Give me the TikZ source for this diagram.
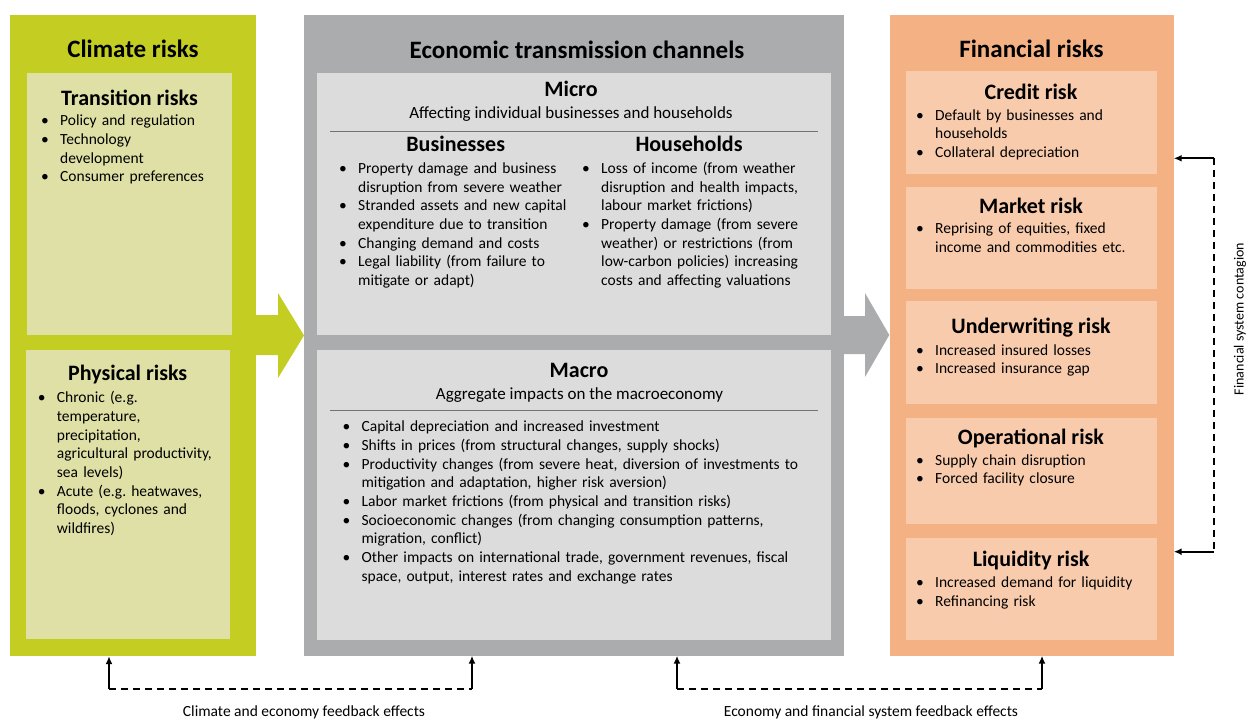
\documentclass[tikz,border=0pt]{standalone}
\usepackage{fontspec}
\setmainfont{Carlito}
\usetikzlibrary{arrows.meta,positioning,calc}
\frenchspacing
\definecolor{climgreen}{HTML}{C3CD22}
\definecolor{climpale}{HTML}{DFE0A6}
\definecolor{econgrey}{HTML}{ABACAE}
\definecolor{econpale}{HTML}{DCDCDC}
\definecolor{finorange}{HTML}{F4B183}
\definecolor{finpale}{HTML}{F8CBAD}
\newlength{\bulsep}\setlength{\bulsep}{19pt}
\newcommand{\riskitem}[1]{\noindent\hangindent=\bulsep\hangafter=1\makebox[\bulsep][l]{\textbullet}#1\par}
\newcommand{\bodyfont}{\fontsize{15.5pt}{18.7pt}\selectfont}
\tikzset{
  outerbox/.style = {rectangle, anchor=north west, inner sep=0pt},
  innerbox/.style = {rectangle, anchor=north west, inner sep=0pt},
  boxtitle/.style = {anchor=base, inner sep=0pt, font=\fontsize{25pt}{29pt}\selectfont\bfseries},
  subtitle/.style = {anchor=base, inner sep=0pt, font=\fontsize{22pt}{26pt}\selectfont\bfseries},
  blurb/.style    = {anchor=base, inner sep=0pt, font=\fontsize{17pt}{20pt}\selectfont},
  bodytext/.style = {anchor=base west, inner sep=0pt, text width=#1, align=left, font=\bodyfont},
  sepline/.style  = {draw=black!55, line width=0.8pt},
  fbdash/.style   = {line width=1.8pt, dash pattern=on 7pt off 5pt},
  fbtip/.style    = {-{Latex[length=8pt,width=7pt]}, line width=1.8pt},
  fblabel/.style  = {anchor=base, inner sep=0pt, font=\fontsize{15.5pt}{18pt}\selectfont},
}

\begin{document}
\begin{tikzpicture}[x=1pt,y=-1pt]
\useasboundingbox (0,0) rectangle (1246,720);
% ---------- outer columns ----------
\node[outerbox, fill=climgreen, minimum width=245.5pt, minimum height=641.5pt] (climate) at (10,14.3) {};
\node[outerbox, fill=econgrey, minimum width=540pt, minimum height=641pt] (econ) at (304,14.3) {};
\node[outerbox, fill=finorange, minimum width=284pt, minimum height=641pt] (fin) at (889.3,14.3) {};
% ---------- band arrows ----------
\fill[climgreen] (250,315) -- (278,315) -- (278,293) -- (304,335.5) -- (278,378) -- (278,355) -- (250,355) -- cycle;
\fill[econgrey] (840,316) -- (865,316) -- (865,293) -- (889.3,335) -- (865,377) -- (865,354) -- (840,354) -- cycle;
% ---------- climate risks ----------
\node[boxtitle] (climtitle) at (133,57.3) {Climate risks};
\node[innerbox, fill=climpale, minimum width=204.7pt, minimum height=262pt] (transition) at (27,72.7) {};
\node[innerbox, fill=climpale, minimum width=204.7pt, minimum height=288.7pt] (physical) at (25.3,350) {};
\node[subtitle] (transtitle) at (129.5,105) {Transition risks};
\node[bodytext=190pt] (transitems) at (41,125.7) {%
  \riskitem{Policy and regulation}
  \riskitem{Technology\newline development}
  \riskitem{Consumer preferences}};
\node[subtitle] (phystitle) at (127.7,380.7) {Physical risks};
\node[bodytext=190pt] (physitems) at (37.7,402.7) {%
  \riskitem{Chronic (e.g.\newline temperature,\newline precipitation,\newline agricultural productivity,\newline sea levels)}
  \riskitem{Acute (e.g. heatwaves,\newline floods, cyclones and\newline wildfires)}};
% ---------- economic transmission channels ----------
\node[boxtitle] (econtitle) at (577,58.3) {Economic transmission channels};
\node[innerbox, fill=econpale, minimum width=514pt, minimum height=261.6pt] (micro) at (317,72.7) {};
\node[innerbox, fill=econpale, minimum width=514pt, minimum height=290pt] (macro) at (317,350) {};
\node[subtitle] (microtitle) at (571,96.7) {Micro};
\node[blurb] (microblurb) at (571,118.3) {Affecting individual businesses and households};
\draw[sepline] (330,131.7) -- (818,131.7);
\node[subtitle] (bustitle) at (455.7,151.7) {Businesses};
\node[subtitle] (hhtitle) at (689,151.7) {Households};
\node[bodytext=235pt] (busitems) at (339,173.3) {%
  \riskitem{Property damage and business\newline disruption from severe weather}
  \riskitem{Stranded assets and new capital\newline expenditure due to transition}
  \riskitem{Changing demand and costs}
  \riskitem{Legal liability (from failure to\newline mitigate or adapt)}};
\node[bodytext=240pt] (hhitems) at (582,173.3) {%
  \riskitem{Loss of income (from weather\newline disruption and health impacts,\newline labour market frictions)}
  \riskitem{Property damage (from severe\newline weather) or restrictions (from\newline low-carbon policies) increasing\newline costs and affecting valuations}};
\node[subtitle] (macrotitle) at (579,377.7) {Macro};
\node[blurb] (macroblurb) at (579.5,399.3) {Aggregate impacts on the macroeconomy};
\draw[sepline] (330,410.3) -- (818,410.3);
\node[bodytext=480pt] (macroitems) at (342.4,431.7) {%
  \riskitem{Capital depreciation and increased investment}
  \riskitem{Shifts in prices (from structural changes, supply shocks)}
  \riskitem{Productivity changes (from severe heat, diversion of investments to\newline mitigation and adaptation, higher risk aversion)}
  \riskitem{Labor market frictions (from physical and transition risks)}
  \riskitem{Socioeconomic changes (from changing consumption patterns,\newline migration, conflict)}
  \riskitem{Other impacts on international trade, government revenues, fiscal\newline space, output, interest rates and exchange rates}};
% ---------- financial risks ----------
\node[boxtitle] (fintitle) at (1031.5,57.3) {Financial risks};
\node[innerbox, fill=finpale, minimum width=251.4pt, minimum height=102.3pt] (credit) at (905.3,71) {};
\node[innerbox, fill=finpale, minimum width=251.4pt, minimum height=102pt] (market) at (905.3,186.7) {};
\node[innerbox, fill=finpale, minimum width=251.4pt, minimum height=102.3pt] (underwriting) at (905.3,301) {};
\node[innerbox, fill=finpale, minimum width=251.4pt, minimum height=106.4pt] (operational) at (905.3,417.3) {};
\node[innerbox, fill=finpale, minimum width=251.4pt, minimum height=102pt] (liquidity) at (905.3,537.3) {};
\node[subtitle] (credittitle) at (1031,99.3) {Credit risk};
\node[bodytext=235pt] (credititems) at (916,120) {%
  \riskitem{Default by businesses and\newline households}
  \riskitem{Collateral depreciation}};
\node[subtitle] (markettitle) at (1031,213.3) {Market risk};
\node[bodytext=235pt] (marketitems) at (916,233.3) {%
  \riskitem{Reprising of equities, fixed\newline income and commodities etc.}};
\node[subtitle] (uwtitle) at (1031,333.3) {Underwriting risk};
\node[bodytext=235pt] (uwitems) at (916,355) {%
  \riskitem{Increased insured losses}
  \riskitem{Increased insurance gap}};
\node[subtitle] (optitle) at (1031,444) {Operational risk};
\node[bodytext=235pt] (opitems) at (916,465) {%
  \riskitem{Supply chain disruption}
  \riskitem{Forced facility closure}};
\node[subtitle] (liqtitle) at (1031,566.7) {Liquidity risk};
\node[bodytext=235pt] (liqitems) at (916,587.3) {%
  \riskitem{Increased demand for liquidity}
  \riskitem{Refinancing risk}};
% ---------- contagion loop ----------
\coordinate (contagtop) at (1214,158.3);
\coordinate (contagbot) at (1214,551.7);
\draw[fbdash] (contagtop) -- (contagbot);
\draw[fbtip] (contagtop) -- (fin.east |- contagtop);
\draw[fbtip] (contagbot) -- (fin.east |- contagbot);
\node[rotate=90, inner sep=0pt, font=\fontsize{14pt}{17pt}\selectfont] (contaglabel) at (1240,319) {Financial system contagion};
% ---------- feedback loops ----------
\coordinate (fbA) at (109,689);
\coordinate (fbB) at (472,689);
\coordinate (fbC) at (677,689);
\coordinate (fbD) at (1042,689);
\draw[fbdash] (fbA) -- (fbB);
\draw[fbdash] (fbC) -- (fbD);
\draw[fbtip] (fbA) -- (fbA |- climate.south);
\draw[fbtip] (fbB) -- (fbB |- econ.south);
\draw[fbtip] (fbC) -- (fbC |- econ.south);
\draw[fbtip] (fbD) -- (fbD |- fin.south);
\node[fblabel] (climfb) at (304,716) {Climate and economy feedback effects};
\node[fblabel] (finfb) at (871,716) {Economy and financial system feedback effects};
\end{tikzpicture}
\end{document}
